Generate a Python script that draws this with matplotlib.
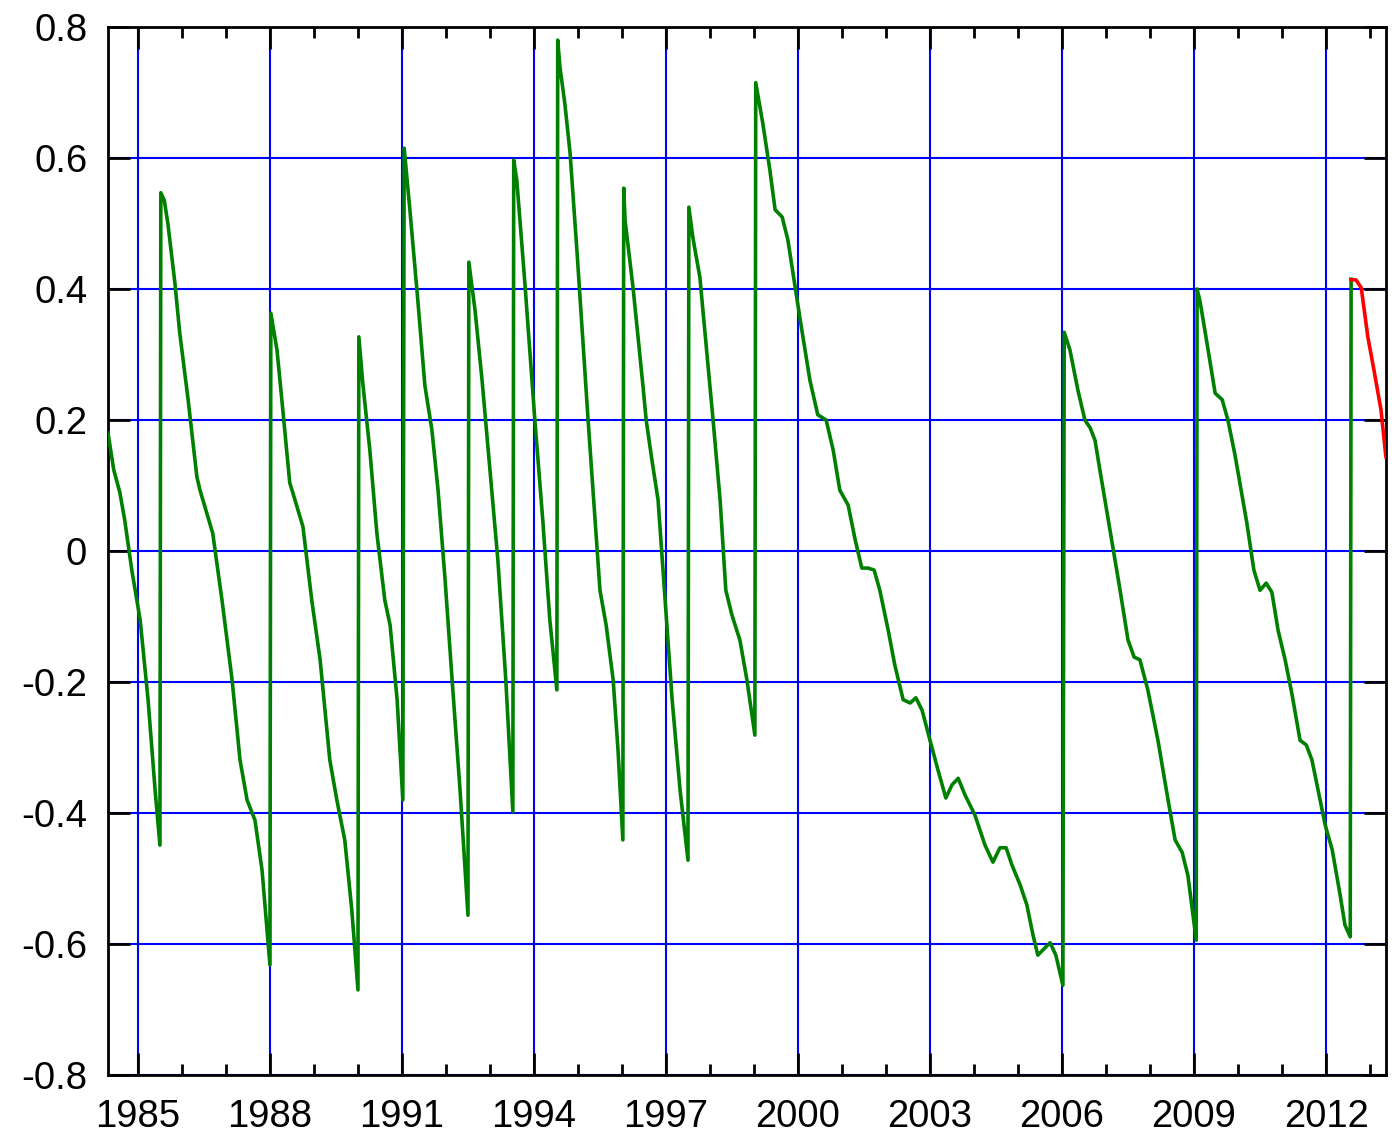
import matplotlib.pyplot as plt
from matplotlib.ticker import MultipleLocator

plt.rcParams['font.family'] = ['Liberation Sans', 'DejaVu Sans']

# green series (decimal year, value)
years = [1984.32, 1984.45, 1984.59, 1984.70, 1984.86, 1985.05, 1985.23, 1985.39, 1985.50,
         1985.52, 1985.60, 1985.68, 1985.84, 1985.95, 1986.14, 1986.34, 1986.41, 1986.70, 1986.91,
         1987.14, 1987.32, 1987.48, 1987.66, 1987.82, 1988.00,
         1988.02, 1988.16, 1988.27, 1988.45, 1988.52, 1988.75, 1988.95, 1989.14, 1989.36,
         1989.52, 1989.70, 1989.86, 1990.00,
         1990.02, 1990.11, 1990.27, 1990.43, 1990.61, 1990.73, 1990.89, 1991.02,
         1991.05, 1991.18, 1991.36, 1991.52, 1991.68, 1991.82, 1991.98, 1992.14, 1992.32, 1992.50,
         1992.52, 1992.66, 1992.82, 1993.00, 1993.18, 1993.36, 1993.52,
         1993.54, 1993.61, 1993.80, 1994.02, 1994.20, 1994.36, 1994.52,
         1994.54, 1994.59, 1994.70, 1994.82, 1994.98, 1995.23, 1995.39, 1995.50, 1995.64,
         1995.80, 1995.91, 1996.02,
         1996.04, 1996.07, 1996.25, 1996.48, 1996.55, 1996.68, 1996.82, 1996.98, 1997.14,
         1997.32, 1997.50,
         1997.52, 1997.61, 1997.77, 1998.07, 1998.23, 1998.36, 1998.50, 1998.68, 1998.84, 1999.02,
         1999.04, 1999.20, 1999.36, 1999.48, 1999.64, 1999.77, 2000.05, 2000.27, 2000.45,
         2000.64, 2000.80, 2000.95, 2001.14, 2001.30, 2001.45, 2001.59, 2001.73, 2001.86,
         2002.05, 2002.20, 2002.39, 2002.55, 2002.68, 2002.82, 2003.00, 2003.18, 2003.36,
         2003.50, 2003.64, 2003.80, 2004.02, 2004.25, 2004.43, 2004.59, 2004.73, 2004.86,
         2005.05, 2005.20, 2005.34, 2005.45, 2005.61, 2005.73, 2005.86, 2006.02,
         2006.05, 2006.18, 2006.36, 2006.52, 2006.64, 2006.75, 2006.86, 2007.09, 2007.32,
         2007.50, 2007.64, 2007.77, 2007.95, 2008.18, 2008.41, 2008.57, 2008.73, 2008.86, 2009.05,
         2009.07, 2009.14, 2009.32, 2009.48, 2009.64, 2009.77, 2009.93, 2010.07, 2010.20,
         2010.36, 2010.50, 2010.64, 2010.77, 2010.91, 2011.07, 2011.23, 2011.41, 2011.55,
         2011.68, 2011.82, 2011.98, 2012.14, 2012.32, 2012.43, 2012.55,
         2012.57]
values = [0.180, 0.124, 0.089, 0.047, -0.029, -0.105, -0.227, -0.365, -0.449,
          0.547, 0.535, 0.500, 0.409, 0.333, 0.231, 0.113, 0.093, 0.027, -0.075,
          -0.197, -0.319, -0.380, -0.411, -0.487, -0.632,
          0.363, 0.307, 0.231, 0.104, 0.089, 0.037, -0.075, -0.166, -0.319,
          -0.380, -0.441, -0.548, -0.670,
          0.327, 0.256, 0.154, 0.027, -0.075, -0.113, -0.227, -0.380,
          0.615, 0.521, 0.383, 0.253, 0.185, 0.093, -0.044, -0.197, -0.365, -0.556,
          0.441, 0.368, 0.261, 0.124, -0.014, -0.197, -0.398,
          0.597, 0.566, 0.403, 0.200, 0.047, -0.105, -0.212,
          0.780, 0.739, 0.684, 0.608, 0.455, 0.200, 0.047, -0.060, -0.113,
          -0.197, -0.304, -0.441,
          0.554, 0.505, 0.403, 0.250, 0.200, 0.139, 0.078, -0.075, -0.227,
          -0.365, -0.472,
          0.525, 0.479, 0.418, 0.200, 0.078, -0.060, -0.098, -0.136, -0.197, -0.281,
          0.715, 0.653, 0.582, 0.521, 0.510, 0.475, 0.353, 0.261, 0.208,
          0.200, 0.154, 0.093, 0.070, 0.017, -0.026, -0.026, -0.029, -0.060,
          -0.121, -0.174, -0.227, -0.232, -0.224, -0.243, -0.289, -0.334, -0.377,
          -0.357, -0.347, -0.373, -0.403, -0.449, -0.475, -0.453, -0.453, -0.479,
          -0.510, -0.540, -0.586, -0.617, -0.606, -0.598, -0.617, -0.663,
          0.334, 0.307, 0.246, 0.200, 0.188, 0.169, 0.124, 0.032, -0.060,
          -0.136, -0.162, -0.166, -0.212, -0.289, -0.380, -0.441, -0.460, -0.495, -0.594,
          0.400, 0.380, 0.307, 0.241, 0.231, 0.200, 0.147, 0.093, 0.043,
          -0.029, -0.060, -0.049, -0.063, -0.121, -0.166, -0.220, -0.289, -0.296,
          -0.319, -0.365, -0.418, -0.456, -0.525, -0.571, -0.589,
          0.415]

# red tail
years_red = [2012.57, 2012.68, 2012.80, 2012.95, 2013.09, 2013.25, 2013.36]
values_red = [0.414, 0.414, 0.402, 0.327, 0.276, 0.215, 0.144]

year_ticks = [1985, 1988, 1991, 1994, 1997, 2000, 2003, 2006, 2009, 2012]
value_ticks = [-0.8, -0.6, -0.4, -0.2, 0, 0.2, 0.4, 0.6, 0.8]
value_labels = ['-0.8', '-0.6', '-0.4', '-0.2', '0', '0.2', '0.4', '0.6', '0.8']

fig = plt.figure(figsize=(13.92, 11.45), dpi=100)
ax = fig.add_axes([0.0776, 0.0611, 0.918, 0.9153])

ax.plot(years, values, color='green', linewidth=2.6, zorder=3)
ax.plot(years_red, values_red, color='red', linewidth=2.6, zorder=3)

ax.set_xlim(1984.32, 2013.36)
ax.set_ylim(-0.8, 0.8)
ax.set_xticks(year_ticks)
ax.set_xticklabels([str(y) for y in year_ticks])
ax.xaxis.set_minor_locator(MultipleLocator(1))
ax.set_yticks(value_ticks)
ax.set_yticklabels(value_labels)

ax.grid(True, which='major', color='blue', linewidth=1.5)
ax.tick_params(which='major', direction='in', length=16, width=2, color='black',
               top=True, right=True, labelsize=27.5)
ax.tick_params(axis='x', which='minor', direction='in', length=8, width=2, top=True)
ax.tick_params(axis='x', which='major', pad=17)
ax.tick_params(axis='y', which='major', pad=15)
for s in ax.spines.values():
    s.set_linewidth(2)

fig.savefig('out.png', dpi=100)
